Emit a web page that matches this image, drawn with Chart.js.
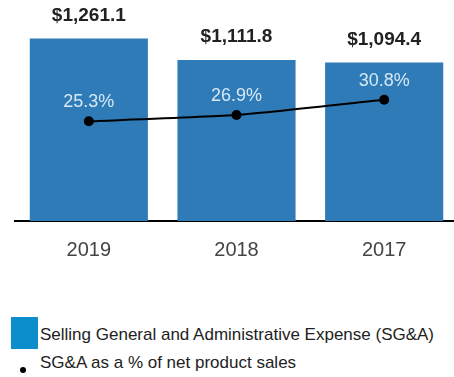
<!DOCTYPE html>
<html>
<head>
<meta charset="utf-8">
<script src="https://cdn.jsdelivr.net/npm/chart.js@4/dist/chart.umd.min.js"></script>
<style>
  html, body { margin: 0; padding: 0; background: #fff; overflow: hidden; }
  body { width: 454px; height: 377px; position: relative; font-family: "Liberation Sans", Arial, sans-serif; }
  #wrap { position: absolute; left: 0; top: 0; width: 463px; height: 279px; }
  .legend { position: absolute; left: 0; top: 0; font-size: 17px; color: #222; }
  .legend .box { position: absolute; left: 11px; top: 317px; width: 27px; height: 32px; background: #0b8ec9; }
  .legend .dot { position: absolute; left: 20px; top: 367px; width: 6px; height: 6px; border-radius: 50%; background: #000; }
  .legend .t1 { position: absolute; left: 40px; top: 325px; white-space: nowrap; }
  .legend .t2 { position: absolute; left: 40px; top: 353px; white-space: nowrap; }
</style>
</head>
<body>
<div id="wrap"><canvas id="chart"></canvas></div>
<div class="legend">
  <div class="box"></div><div class="t1">Selling General and Administrative Expense (SG&amp;A)</div>
  <div class="dot"></div><div class="t2">SG&amp;A as a % of net product sales</div>
</div>
<script>
const years = ['2019', '2018', '2017'];
const sgaExpense = [1261.1, 1111.8, 1094.4];
const sgaPercent = [25.3, 26.9, 30.8];

// value labels: dollars above the bars, percentages above the points
const valueLabels = {
    id: 'valueLabels',
    afterDatasetsDraw(chart) {
        const ctx = chart.ctx;
        ctx.save();
        ctx.textAlign = 'center';
        ctx.textBaseline = 'middle';
        chart.getDatasetMeta(1).data.forEach(function (bar, i) {
            ctx.font = 'bold 19px "Liberation Sans", Arial, sans-serif';
            ctx.fillStyle = '#222';
            ctx.fillText('$' + sgaExpense[i].toLocaleString('en-US', { minimumFractionDigits: 1 }), bar.x, bar.y - 23);
        });
        chart.getDatasetMeta(0).data.forEach(function (pt, i) {
            ctx.font = '18px "Liberation Sans", Arial, sans-serif';
            ctx.fillStyle = '#d6e8f5';
            ctx.fillText(sgaPercent[i].toFixed(1) + '%', pt.x, pt.y - 19);
        });
        ctx.restore();
    }
};

new Chart(document.getElementById('chart'), {
    data: {
        labels: years,
        datasets: [
            {
                type: 'line',
                data: sgaPercent,
                yAxisID: 'y2',
                borderColor: '#000',
                borderWidth: 2,
                pointRadius: 5,
                pointBackgroundColor: '#000',
                pointBorderWidth: 0,
                tension: 0.15,
                order: 0
            },
            {
                type: 'bar',
                data: sgaExpense,
                yAxisID: 'y',
                backgroundColor: '#2e7bb8',
                barPercentage: 0.8,
                categoryPercentage: 1,
                order: 1
            }
        ]
    },
    options: {
        responsive: true,
        maintainAspectRatio: false,
        animation: false,
        layout: { padding: { left: 15, top: 0, right: 0 } },
        plugins: { legend: { display: false }, tooltip: { enabled: false } },
        scales: {
            x: {
                grid: { display: false, drawTicks: false },
                border: { color: '#000', width: 2 },
                ticks: { color: '#444', font: { size: 20, family: '"Liberation Sans", Arial, sans-serif' }, padding: 17 }
            },
            y: {
                display: false,
                min: 0,
                max: 1492
            },
            y2: {
                display: false,
                min: -0.2,
                max: 55.05
            }
        }
    },
    plugins: [valueLabels]
});
</script>
</body>
</html>
